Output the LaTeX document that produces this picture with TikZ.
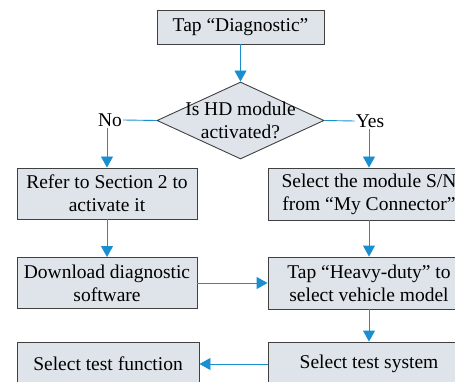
\documentclass[tikz,border=0pt]{standalone}
\usepackage{fontspec}
\setmainfont{Liberation Serif}
\usetikzlibrary{arrows.meta, positioning, shapes.geometric}
\definecolor{boxfill}{HTML}{DEE4EA}
\definecolor{flowblue}{HTML}{1A8FD0}

\begin{document}
\begin{tikzpicture}[
    x=1pt, y=-1pt,
    box/.style={draw=black!75, fill=boxfill, line width=0.9pt, inner sep=0pt, align=center, font=\fontsize{19.5}{23}\selectfont},
    leftbox/.style={box, minimum width=180pt, minimum height=51pt},
    rightbox/.style={box, minimum width=202pt, minimum height=52pt},
    decision/.style={diamond, draw=black!75, fill=boxfill, line width=0.9pt, inner sep=0pt, minimum width=167pt, minimum height=77pt},
    answer/.style={inner sep=1pt, font=\fontsize{19.5}{22}\selectfont},
    flow/.style={flowblue, line width=0.9pt},
    arrow/.style={flow, -{Triangle[length=11pt, width=12pt]}}
]
\useasboundingbox (0,0) rectangle (455,382);
\clip (0,0) rectangle (455,382);

% Boxes
\node[box, minimum width=167pt, minimum height=34pt] (tap) at (240.5,27) {Tap “Diagnostic”};
\node[decision, label={[align=center, font=\fontsize{19.5}{23}\selectfont]center:Is HD module\\activated?}] (active) at (240.5,120.5) {};
\node[answer] (no) at (110,120) {No};
\node[answer] (yes) at (370,121) {Yes};
\node[leftbox] (refer) at (107,193.5) {Refer to Section 2 to\\activate it};
\node[rightbox] (serial) at (369,194) {Select the module S/N\\from “My Connector”};
\node[leftbox] (download) at (107,283) {Download diagnostic\\software};
\node[rightbox] (heavy) at (369,283) {Tap “Heavy-duty” to\\select vehicle model};
\node[box, minimum width=182pt, minimum height=44pt] (function) at (108,364) {Select test function};
\node[rightbox, minimum height=44pt] (system) at (369,364) {Select test system};

% Connectors
\draw[arrow] (tap) -- (active);
\draw[flow] (active.west) -- (no.east);
\draw[flow] (active.east) -- (yes.west);
\draw[arrow] (no.south -| refer.north) -- (refer.north);
\draw[arrow] (yes.south -| serial.north) -- (serial.north);
\draw[arrow] (refer) -- (download);
\draw[arrow] (serial) -- (heavy);
\draw[arrow] (download) -- (heavy);
\draw[arrow] (heavy) -- (system);
\draw[arrow] (system) -- (function);

\end{tikzpicture}
\end{document}
